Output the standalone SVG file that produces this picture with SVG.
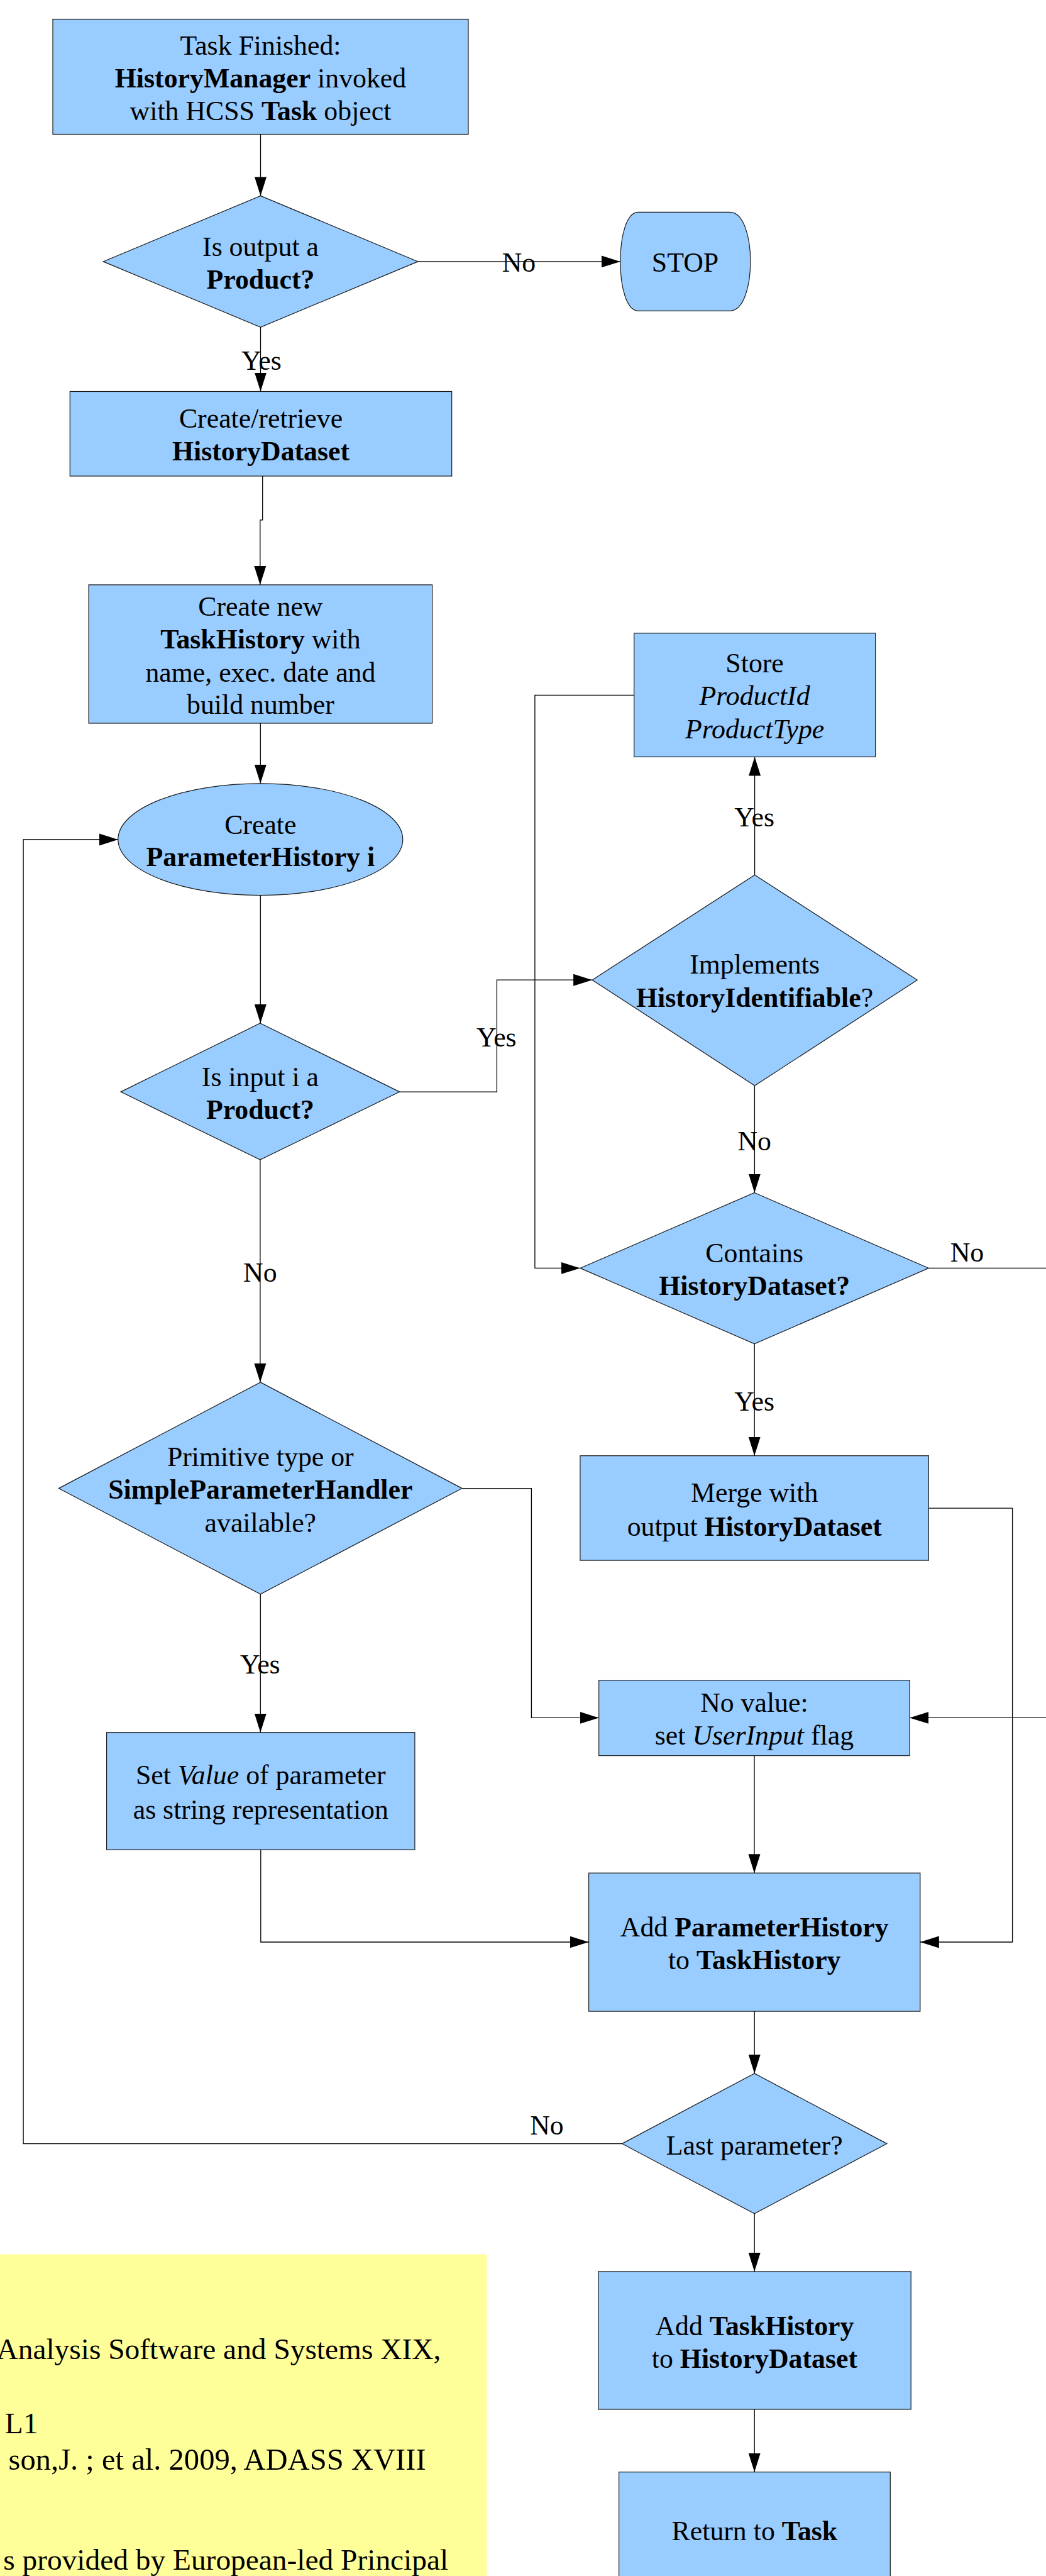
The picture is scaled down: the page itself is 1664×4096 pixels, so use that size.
<svg xmlns="http://www.w3.org/2000/svg" width="1664" height="4096" viewBox="0 0 1664 4096">
<style>
.n{fill:#99ccff;stroke:#1a1a1a;stroke-width:1.2}
.t{font-family:"Liberation Serif","Times New Roman",serif;font-size:43.8px;text-anchor:middle;fill:#000}
.b{font-weight:bold}
.i{font-style:italic}
.c{fill:none;stroke:#000;stroke-width:1.3}
.y{font-family:"Liberation Serif","Times New Roman",serif;font-size:47.4px;fill:#000}
</style>
<defs>
<marker id="ah" markerUnits="userSpaceOnUse" markerWidth="31" markerHeight="20" viewBox="0 0 31 20" refX="30" refY="10" orient="auto">
<path d="M0,0.5 L30,10 L0,19.5 Z" fill="#000"/>
</marker>
</defs>
<rect width="1664" height="4096" fill="#fff"/>

<g id="note">
<rect x="0" y="3584.6" width="774.3" height="520" fill="#ffff99"/>
<text class="y" x="701.3" y="3751" text-anchor="end">Analysis Software and Systems XIX,</text>
<text class="y" x="7.8" y="3868.7">L1</text>
<text class="y" x="677.6" y="3927" text-anchor="end" style="font-size:48.6px">son,J. ; et al. 2009, ADASS XVIII</text>
<text class="y" x="713.2" y="4086" text-anchor="end">s provided by European-led Principal</text>
</g>

<g id="n-start">
<rect class="n" x="84" y="30.5" width="661" height="183"/>
<text class="t" x="414.5" y="86.6">Task Finished:</text>
<text class="t" x="414.5" y="138.6"><tspan class="b">HistoryManager</tspan> invoked</text>
<text class="t" x="414.5" y="190.6">with HCSS <tspan class="b">Task</tspan> object</text>
</g>
<g id="n-isoutput">
<polygon class="n" points="414.5,311.4 664.8,415.9 414.5,520.3 164.2,415.9"/>
<text class="t" x="414.5" y="406.8">Is output a</text>
<text class="t b" x="414.5" y="459.3">Product?</text>
</g>
<g id="n-stop">
<path class="n" d="M1015.3,337.4 H1161.2 C1204.7,337.4 1204.7,494.3 1161.2,494.3 H1015.3 C977.3,494.3 977.3,337.4 1015.3,337.4 Z"/>
<text class="t" x="1090" y="432.3">STOP</text>
</g>
<g id="n-createds">
<rect class="n" x="111.3" y="622.5" width="607.4" height="134.5"/>
<text class="t" x="415" y="680.4">Create/retrieve</text>
<text class="t b" x="415" y="732.3">HistoryDataset</text>
</g>
<g id="n-taskhist">
<rect class="n" x="141.1" y="929.9" width="546.5" height="220.1"/>
<text class="t" x="414.4" y="978.6">Create new</text>
<text class="t" x="414.4" y="1030.6"><tspan class="b">TaskHistory</tspan> with</text>
<text class="t" x="414.4" y="1083.5">name, exec. date and</text>
<text class="t" x="414.4" y="1135.4">build number</text>
</g>
<g id="n-paramhist">
<ellipse class="n" cx="414.3" cy="1334.7" rx="226.5" ry="88.9"/>
<text class="t" x="414.3" y="1326">Create</text>
<text class="t b" x="414.3" y="1377.1">ParameterHistory i</text>
</g>
<g id="n-isinput">
<polygon class="n" points="413.9,1627 635.7,1736.1 413.9,1844.1 192.1,1736.1"/>
<text class="t" x="413.9" y="1727">Is input i a</text>
<text class="t b" x="413.9" y="1779.3">Product?</text>
</g>
<g id="n-store">
<rect class="n" x="1008.7" y="1006.8" width="383.9" height="196.7"/>
<text class="t" x="1200.6" y="1068.9">Store</text>
<text class="t i" x="1200.6" y="1121.3">ProductId</text>
<text class="t i" x="1200.6" y="1174.2">ProductType</text>
</g>
<g id="n-implements">
<polygon class="n" points="1200.6,1391.2 1459.2,1558.2 1200.6,1726.3 942.1,1558.2"/>
<text class="t" x="1200.6" y="1547.7">Implements</text>
<text class="t" x="1200.6" y="1600.6"><tspan class="b">HistoryIdentifiable</tspan>?</text>
</g>
<g id="n-contains">
<polygon class="n" points="1200.2,1896.5 1477.4,2016.4 1200.2,2136.8 922.9,2016.4"/>
<text class="t" x="1200.2" y="2007.3">Contains</text>
<text class="t b" x="1200.2" y="2059.3">HistoryDataset?</text>
</g>
<g id="n-merge">
<rect class="n" x="922.9" y="2314.7" width="554.5" height="166.4"/>
<text class="t" x="1200.2" y="2387.6">Merge with</text>
<text class="t" x="1200.2" y="2442.3">output <tspan class="b">HistoryDataset</tspan></text>
</g>
<g id="n-primitive">
<polygon class="n" points="414.3,2197.9 735.1,2366.6 414.3,2534.9 93.4,2366.6"/>
<text class="t" x="414.3" y="2331.1">Primitive type or</text>
<text class="t b" x="414.3" y="2383">SimpleParameterHandler</text>
<text class="t" x="414.3" y="2435.5">available?</text>
</g>
<g id="n-novalue">
<rect class="n" x="952.7" y="2671.7" width="494.4" height="119.9"/>
<text class="t" x="1199.9" y="2722.3">No value:</text>
<text class="t" x="1199.9" y="2774.3">set <tspan class="i">UserInput</tspan> flag</text>
</g>
<g id="n-setvalue">
<rect class="n" x="169.6" y="2754.7" width="490.3" height="186.5"/>
<text class="t" x="414.8" y="2837.2">Set <tspan class="i">Value</tspan> of parameter</text>
<text class="t" x="414.8" y="2891.5">as string representation</text>
</g>
<g id="n-addph">
<rect class="n" x="936.6" y="2978.2" width="527.2" height="219.9"/>
<text class="t" x="1200.2" y="3078.9">Add <tspan class="b">ParameterHistory</tspan></text>
<text class="t" x="1200.2" y="3130.9">to <tspan class="b">TaskHistory</tspan></text>
</g>
<g id="n-last">
<polygon class="n" points="1200.2,3296.9 1410.9,3408.6 1200.2,3519.8 989.5,3408.6"/>
<text class="t" x="1200.2" y="3426.1">Last parameter?</text>
</g>
<g id="n-addth">
<rect class="n" x="951.7" y="3611.9" width="497.5" height="219.1"/>
<text class="t" x="1200.4" y="3712.6">Add <tspan class="b">TaskHistory</tspan></text>
<text class="t" x="1200.4" y="3764.7">to <tspan class="b">HistoryDataset</tspan></text>
</g>
<g id="n-return">
<rect class="n" x="984.6" y="3930.7" width="431.7" height="180"/>
<text class="t" x="1200.4" y="4038.8">Return to <tspan class="b">Task</tspan></text>
</g>

<g id="connectors">
<path class="c" marker-end="url(#ah)" d="M414.5,213.5 V311.4"/>
<path class="c" marker-end="url(#ah)" d="M664.8,415.9 H986.8"/>
<text class="t" x="825.4" y="432.3">No</text>
<path class="c" marker-end="url(#ah)" d="M414.5,520.3 V622.5"/>
<text class="t" x="415.9" y="588.2">Yes</text>
<path class="c" marker-end="url(#ah)" d="M417.7,757 V826.9 H413.8 V929.9"/>
<path class="c" marker-end="url(#ah)" d="M414.3,1150 V1245.8"/>
<path class="c" marker-end="url(#ah)" d="M414.3,1423.6 V1627"/>
<path class="c" marker-end="url(#ah)" d="M635.7,1736.1 H790.4 V1558.2 H942.1"/>
<text class="t" x="789.8" y="1663.9">Yes</text>
<path class="c" marker-end="url(#ah)" d="M1200.6,1391.2 V1203.5"/>
<text class="t" x="1200.2" y="1313.8">Yes</text>
<path class="c" marker-end="url(#ah)" d="M1008.7,1105.3 H850.9 V2016.4 H922.9"/>
<path class="c" marker-end="url(#ah)" d="M1200.4,1726.3 V1896.5"/>
<text class="t" x="1200.2" y="1829.3">No</text>
<path class="c" d="M1477.4,2016.4 H1664"/>
<text class="t" x="1538.5" y="2006.4">No</text>
<path class="c" marker-end="url(#ah)" d="M1200.2,2136.8 V2314.7"/>
<text class="t" x="1200.2" y="2242.6">Yes</text>
<path class="c" marker-end="url(#ah)" d="M413.9,1844.1 V2197.9"/>
<text class="t" x="413.8" y="2038.1">No</text>
<path class="c" marker-end="url(#ah)" d="M735.1,2366.6 H845.4 V2731.4 H952.7"/>
<path class="c" marker-end="url(#ah)" d="M414.3,2534.9 V2754.7"/>
<text class="t" x="413.8" y="2661.2">Yes</text>
<path class="c" marker-end="url(#ah)" d="M1664,2731.4 H1447.1"/>
<path class="c" marker-end="url(#ah)" d="M1477.4,2398.1 H1610.6 V3088 H1463.8"/>
<path class="c" marker-end="url(#ah)" d="M1200,2791.6 V2978.2"/>
<path class="c" marker-end="url(#ah)" d="M414.8,2941.2 V3088 H936.6"/>
<path class="c" marker-end="url(#ah)" d="M1200.2,3198.1 V3296.9"/>
<path class="c" marker-end="url(#ah)" d="M989.5,3408.6 H37.1 V1335 H187.8"/>
<text class="t" x="870" y="3393.6">No</text>
<path class="c" marker-end="url(#ah)" d="M1200.2,3519.8 V3611.9"/>
<path class="c" marker-end="url(#ah)" d="M1200.2,3831 V3930.7"/>
</g>
</svg>
